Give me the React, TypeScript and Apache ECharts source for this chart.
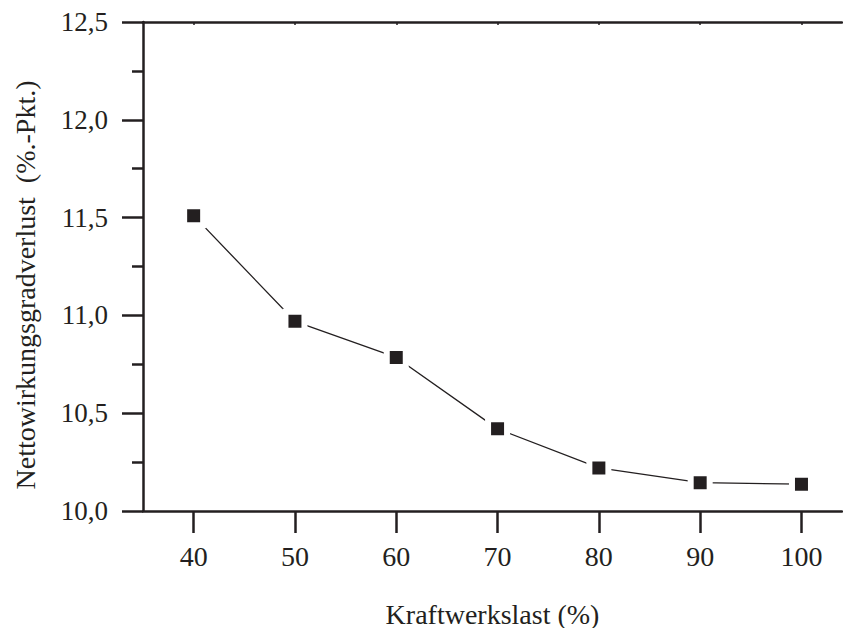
import React, { useEffect, useRef } from "react";
import * as echarts from "echarts";

const loadPercent = [40, 50, 60, 70, 80, 90, 100];
const efficiencyLoss = [11.51, 10.97, 10.785, 10.42, 10.22, 10.145, 10.137];
const xTickValues = [40, 50, 60, 70, 80, 90, 100];
const xAxisTitle = "Kraftwerkslast (%)";
const yAxisTitle = "Nettowirkungsgradverlust  (%.-Pkt.)";

const INK = "#231f20";
const FONT = "Liberation Serif";

export default function App() {
  const ref = useRef<HTMLDivElement>(null);

  useEffect(() => {
    if (!ref.current) return;
    const chart = echarts.init(ref.current, undefined, { renderer: "svg" });
    const data = loadPercent.map((x, i) => [x, efficiencyLoss[i]]);
    chart.setOption({
      animation: false,
      backgroundColor: "#ffffff",
      grid: {
        left: 143,
        top: 22,
        width: 699,
        height: 489,
        containLabel: false,
        outerBoundsMode: "none",
      },
      xAxis: [
        {
          type: "value",
          position: "bottom",
          min: 35,
          max: 104,
          splitLine: { show: false },
          axisLine: { show: true, lineStyle: { color: INK, width: 2.5 } },
          axisTick: {
            show: true,
            inside: false,
            length: 22,
            customValues: xTickValues,
            lineStyle: { color: INK, width: 2.5 },
          },
          axisLabel: {
            customValues: xTickValues,
            margin: 31,
            color: INK,
            fontFamily: FONT,
            fontSize: 28,
          },
          name: xAxisTitle,
          nameLocation: "middle",
          nameGap: 89,
          nameTextStyle: { color: INK, fontFamily: FONT, fontSize: 28 },
        },
        {
          type: "value",
          position: "top",
          min: 35,
          max: 104,
          splitLine: { show: false },
          axisLine: { show: true, lineStyle: { color: INK, width: 2.5 } },
          axisTick: {
            show: true,
            inside: true,
            length: 3,
            customValues: xTickValues,
            lineStyle: { color: INK, width: 1.5 },
          },
          axisLabel: { show: false },
        },
      ],
      yAxis: {
        type: "value",
        min: 10,
        max: 12.5,
        interval: 0.5,
        splitLine: { show: false },
        axisLine: { show: true, lineStyle: { color: INK, width: 2.5 } },
        axisTick: { show: true, inside: false, length: 21, lineStyle: { color: INK, width: 2.5 } },
        minorTick: { show: true, splitNumber: 2, length: 11, lineStyle: { color: INK, width: 2.5 } },
        axisLabel: {
          margin: 35,
          color: INK,
          fontFamily: FONT,
          fontSize: 27,
          formatter: (v: number) => v.toFixed(1).replace(".", ","),
        },
      },
      graphic: [
        {
          type: "text",
          x: 25,
          y: 285,
          rotation: Math.PI / 2,
          style: {
            text: yAxisTitle,
            fill: INK,
            fontFamily: FONT,
            fontSize: 28,
            align: "center",
            verticalAlign: "middle",
          },
        },
      ],
      series: [
        {
          type: "line",
          data,
          symbol: "rect",
          symbolSize: 19,
          itemStyle: { color: INK, borderColor: "#ffffff", borderWidth: 6 },
          lineStyle: { color: INK, width: 1.3 },
          z: 3,
        },
      ],
    });
    return () => chart.dispose();
  }, []);

  return (
    <div
      ref={ref}
      style={{ position: "absolute", left: 0, top: 0, width: 843, height: 628, background: "#fff" }}
    />
  );
}
